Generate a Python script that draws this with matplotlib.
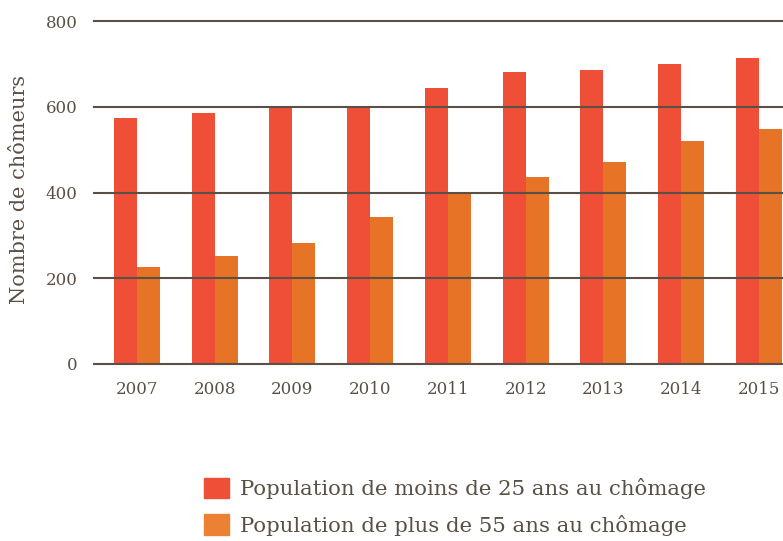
import matplotlib
matplotlib.use("Agg")
import matplotlib.pyplot as plt
from matplotlib.patches import Patch
import numpy as np

years = ["2007", "2008", "2009", "2010", "2011", "2012", "2013", "2014", "2015"]
moins_25 = [573, 585, 598, 599, 643, 681, 686, 700, 714]
plus_55 = [226, 252, 282, 343, 400, 436, 471, 520, 548]
yticks = [0, 200, 400, 600, 800]

red = "#EF4E37"
orange = "#E67326"
txt = "#5A4F45"
line = "#5A5046"

plt.rcParams["font.family"] = ["DejaVu Serif"]

fig = plt.figure(figsize=(7.83, 5.41), dpi=100)
ax = fig.add_axes([94 / 783, 1 - 364 / 541, 1 - 94 / 783, 343 / 541])

x = np.arange(len(years))
w = 0.296
ax.bar(x - w / 2, moins_25, w, color=red, zorder=2, linewidth=0)
ax.bar(x + w / 2, plus_55, w, color=orange, zorder=2, linewidth=0)

ax.set_xlim(-0.553, 8.31)
ax.set_ylim(0, 800)
ax.set_yticks(yticks)
ax.set_xticks(x)
ax.set_xticklabels(years)
for v in yticks:
    ax.axhline(v, color=line, lw=1.5, zorder=3, clip_on=False)

for s in ax.spines.values():
    s.set_visible(False)
ax.tick_params(axis="both", length=0, colors=txt, labelsize=12)
ax.tick_params(axis="y", pad=12)
ax.tick_params(axis="x", pad=12)

fig.text(20 / 783, 1 - 189 / 541, "Nombre de chômeurs", rotation=90,
         ha="center", va="center", color=txt, fontsize=15)

handles = [Patch(color=red, label="Population de moins de 25 ans au chômage"),
           Patch(color="#EC8133", label="Population de plus de 55 ans au chômage")]
leg = fig.legend(handles=handles, loc="upper left",
                 bbox_to_anchor=(204 / 783, 1 - 478 / 541), frameon=False,
                 fontsize=15.3, handlelength=1.2, handleheight=1.1,
                 handletextpad=0.5, labelspacing=0.7, borderpad=0,
                 borderaxespad=0)
for t in leg.get_texts():
    t.set_color(txt)

fig.savefig("out.png", dpi=100)
